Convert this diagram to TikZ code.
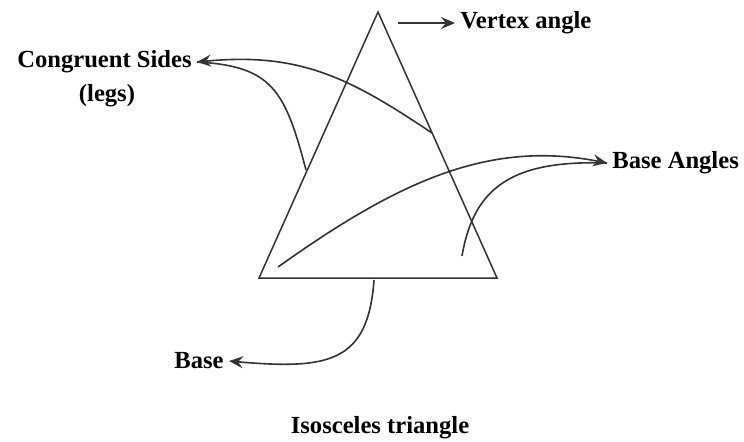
\documentclass[tikz,border=0pt]{standalone}
\usepackage{fontspec}
\setmainfont{Liberation Serif}
\usepackage{tikz}
\usetikzlibrary{arrows.meta}

\begin{document}
\begin{tikzpicture}[
    x=0.5pt, y=-0.5pt,
    every node/.style={font=\fontsize{12.3}{14}\selectfont\bfseries, inner sep=2.5pt},
    side/.style={line width=0.75pt, color=black!80},
    edge/.style={-{Stealth[length=7pt, width=6pt, inset=2.5pt]}, line width=0.8pt, color=black!80},
    curve/.style={line width=0.8pt, color=black!80}
]
\useasboundingbox (0,0) rectangle (744,441);

% Triangle
\coordinate (apex) at (378,12);
\coordinate (bl) at (259,278);
\coordinate (br) at (497,278);
\draw[side, line join=miter] (apex) -- (bl) -- (br) -- cycle;

% Labels
\node[anchor=west] (va) at (455,23) {Vertex angle};
\node[anchor=east] (cs) at (197,62) {Congruent Sides};
\node (legs) at (107,96) {(legs)};
\node[anchor=west] (ba) at (607,163) {Base Angles};
\node[anchor=east] (base) at (229,361) {Base};
\node (title) at (380,428) {Isosceles triangle};

% Curve starts
\coordinate (v0) at (398,23);
\coordinate (c1) at (432,133);
\coordinate (c2) at (306,170);
\coordinate (b1) at (278,267);
\coordinate (b2) at (462,256);
\coordinate (s0) at (374,280);

% Arrows
\draw[edge] (v0) -- (va.west);
\draw[edge] (c1) .. controls (350,78) and (300,52) .. (cs.east);
\draw[curve] (c2) .. controls (285,90) and (272,66) .. (cs.east);
\draw[edge] (b1) .. controls (400,180) and (490,140) .. (ba.west);
\draw[curve] (b2) .. controls (474,185) and (515,160) .. (ba.west);
\draw[edge] (s0) .. controls (368,362) and (330,370) .. (base.east);

\end{tikzpicture}
\end{document}
